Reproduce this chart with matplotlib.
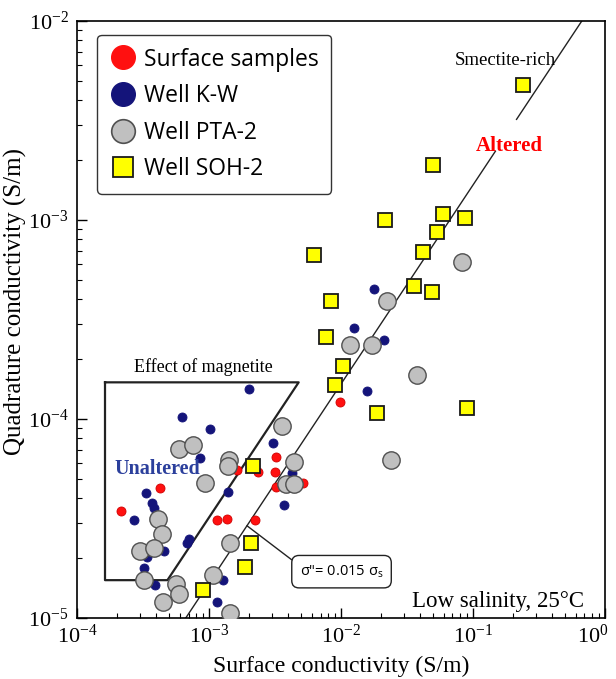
import numpy as np
import matplotlib.pyplot as plt
import matplotlib.transforms as mtransforms
from matplotlib.lines import Line2D

plt.rcParams['font.family'] = ['Liberation Serif', 'DejaVu Serif']
plt.rcParams['mathtext.fontset'] = 'custom'
plt.rcParams['mathtext.rm'] = 'Liberation Serif'
plt.rcParams['mathtext.it'] = 'Liberation Serif:italic'
plt.rcParams['mathtext.default'] = 'regular'

# surface samples (red)
surf_x = [4.26e-4, 2.14e-4, 1.16e-3, 1.36e-3, 2.23e-3, 1.64e-3, 2.35e-3, 3.22e-3,
          3.18e-3, 3.22e-3, 5.18e-3, 9.82e-3]
surf_y = [4.52e-5, 3.44e-5, 3.10e-5, 3.13e-5, 3.10e-5, 5.57e-5, 5.43e-5, 6.43e-5,
          5.40e-5, 4.57e-5, 4.75e-5, 1.22e-4]

# well K-W (navy)
kw_x = [2.01e-3, 6.28e-4, 1.01e-3, 8.55e-4, 3.33e-4, 3.70e-4, 3.81e-4, 2.70e-4,
        1.39e-3, 7.10e-4, 6.78e-4, 4.58e-4, 3.37e-4, 3.24e-4, 3.90e-4, 1.28e-3,
        1.16e-3, 3.07e-3, 4.26e-3, 3.73e-3, 1.78e-2, 1.25e-2, 2.12e-2, 1.58e-2]
kw_y = [1.42e-4, 1.03e-4, 8.91e-5, 6.35e-5, 4.27e-5, 3.79e-5, 3.58e-5, 3.12e-5,
        4.29e-5, 2.51e-5, 2.39e-5, 2.17e-5, 2.03e-5, 1.78e-5, 1.47e-5, 1.56e-5,
        1.21e-5, 7.60e-5, 5.33e-5, 3.71e-5, 4.52e-4, 2.86e-4, 2.50e-4, 1.39e-4]

# well PTA-2 (grey)
pta_x = [5.96e-4, 7.53e-4, 1.42e-3, 1.39e-3, 9.38e-4, 4.08e-4, 4.43e-4, 3.00e-4,
         3.85e-4, 3.24e-4, 5.60e-4, 5.93e-4, 4.46e-4, 1.07e-3, 1.45e-3, 1.44e-3,
         3.56e-3, 4.43e-3, 3.83e-3, 4.43e-3, 8.30e-2, 2.23e-2, 1.18e-2, 1.71e-2,
         3.79e-2, 2.39e-2]
pta_y = [7.05e-5, 7.43e-5, 6.22e-5, 5.81e-5, 4.77e-5, 3.14e-5, 2.64e-5, 2.17e-5,
         2.24e-5, 1.55e-5, 1.49e-5, 1.32e-5, 1.21e-5, 1.64e-5, 2.39e-5, 1.06e-5,
         9.25e-5, 6.10e-5, 4.71e-5, 4.71e-5, 6.15e-4, 3.90e-4, 2.36e-4, 2.36e-4,
         1.66e-4, 6.22e-5]

# well SOH-2 (yellow)
soh_x = [2.17e-3, 2.08e-3, 1.89e-3, 9.08e-4, 7.76e-3, 1.04e-2, 9.06e-3, 8.36e-3,
         6.24e-3, 2.15e-2, 5.94e-2, 8.75e-2, 5.34e-2, 4.16e-2, 3.60e-2, 4.91e-2,
         1.86e-2, 8.96e-2, 5.00e-2, 0.239]
soh_y = [5.81e-5, 2.37e-5, 1.80e-5, 1.39e-5, 2.58e-4, 1.85e-4, 1.48e-4, 3.94e-4,
         6.65e-4, 1.0e-3, 1.07e-3, 1.02e-3, 8.71e-4, 6.95e-4, 4.65e-4, 4.34e-4,
         1.07e-4, 1.14e-4, 1.90e-3, 4.77e-3]

ratio = 0.015        # sigma" = 0.015 sigma_s
mag_ratio = 0.032    # edge of the magnetite field
mag_left, mag_top, mag_bot = 1.63e-4, 1.53e-4, 1.55e-5

fig = plt.figure(figsize=(6.16, 6.79), dpi=100)
ax = fig.add_axes([0.125, 0.0898, 0.857, 0.879])
ax.set_xscale('log')
ax.set_yscale('log')
ax.set_xlim(1e-4, 1)
ax.set_ylim(1e-5, 1e-2)

# sigma" = 0.015 sigma_s, broken around the "Altered" label
for seg in ([5e-4, 0.148], [0.214, 0.8]):
    xs = np.array(seg)
    ax.plot(xs, ratio * xs, color='#222222', lw=1.0, zorder=2)

# magnetite field outline
mx = [mag_left, mag_top / mag_ratio, mag_bot / mag_ratio, mag_left, mag_left]
my = [mag_top, mag_top, mag_bot, mag_bot, mag_top]
ax.plot(mx, my, color='#222222', lw=1.6, zorder=2)

ax.plot(surf_x, surf_y, ls='none', marker='o', ms=6.5, mfc='#ff1010',
        mec='#d00000', mew=0.6, zorder=3)
ax.plot(kw_x, kw_y, ls='none', marker='o', ms=6.5, mfc='#14147a',
        mec='#14147a', mew=0.6, zorder=3)
ax.plot(pta_x, pta_y, ls='none', marker='o', ms=12.5, mfc='#c0c0c0',
        mec='#505050', mew=1.0, zorder=4)
ax.plot(soh_x, soh_y, ls='none', marker='s', ms=10, mfc='#ffff00',
        mec='#1a1a1a', mew=1.3, zorder=5)

ax.text(9.08e-4, 1.83e-4, 'Effect of magnetite', fontsize=13,
        ha='center', va='center')
ax.text(4.07e-4, 5.61e-5, 'Unaltered', fontsize=14.5, fontweight='bold',
        color='#2b3f9c', ha='center', va='center')
ax.text(0.1875, 2.35e-3, 'Altered', fontsize=15, fontweight='bold',
        color='#ff0000', ha='center', va='center')
ax.text(0.176, 6.32e-3, 'Smectite-rich', fontsize=13.5, ha='center', va='center')
ax.text(0.96, 0.0285, 'Low salinity, 25\u00b0C', fontsize=16.5,
        ha='right', va='center', transform=ax.transAxes)

xa = 1.94e-3
ax.annotate('\u03c3"= 0.015 \u03c3$_\\mathregular{s}$', xy=(xa, ratio * xa),
            xytext=(1.01e-2, 1.71e-5), ha='center', va='center',
            fontsize=10.5, family=['Open Sans', 'DejaVu Sans'],
            bbox=dict(boxstyle='round,pad=0.55,rounding_size=0.5',
                      fc='white', ec='#222222', lw=1.0),
            arrowprops=dict(arrowstyle='-', color='#222222', lw=1.0,
                            shrinkA=0, shrinkB=0, relpos=(0.0, 0.85)),
            zorder=6)

handles = [
    Line2D([], [], ls='none', marker='o', ms=17, mfc='#ff1010', mec='#ff1010'),
    Line2D([], [], ls='none', marker='o', ms=17, mfc='#14147a', mec='#14147a'),
    Line2D([], [], ls='none', marker='o', ms=17, mfc='#c0c0c0', mec='#505050', mew=1.2),
    Line2D([], [], ls='none', marker='s', ms=15, mfc='#ffff00', mec='#1a1a1a', mew=1.3),
]
labels = ['Surface samples', 'Well K-W', 'Well PTA-2', 'Well SOH-2']
leg = ax.legend(handles, labels, loc='upper left', bbox_to_anchor=(0.038, 0.977),
                borderaxespad=0, prop={'family': ['Open Sans', 'DejaVu Sans'], 'size': 16.5},
                labelspacing=0.55, handletextpad=0.35, handlelength=1.15,
                borderpad=0.55, fancybox=True, framealpha=1, edgecolor='#333333')
leg.get_frame().set_linewidth(1.0)

ax.tick_params(which='both', direction='in', top=False, right=False,
               labelsize=16)
ax.tick_params(which='major', length=7, width=1.0)
ax.tick_params(which='minor', length=3.5, width=0.8)
ax.tick_params(axis='x', pad=5)
ax.tick_params(axis='y', pad=6)
for s in ax.spines.values():
    s.set_linewidth(1.2)

ax.set_xlabel('Surface conductivity (S/m)', fontsize=17)
ax.set_ylabel('Quadrature conductivity (S/m)', fontsize=18)
ax.xaxis.set_label_coords(0.5, -0.064)
ax.yaxis.set_label_coords(-0.094, 0.53)

# nudge the corner labels: 10^0 inward, 10^-5 up clear of 10^-4
fig.canvas.draw()
for t in ax.get_xticklabels():
    if t.get_position()[0] == 1.0:
        t.set_transform(t.get_transform() + mtransforms.ScaledTranslation(-9 / 72, 0, fig.dpi_scale_trans))
for t in ax.get_yticklabels():
    if t.get_position()[1] == 1e-5:
        t.set_transform(t.get_transform() + mtransforms.ScaledTranslation(0, 5 / 72, fig.dpi_scale_trans))

fig.savefig('out.png', dpi=100)
